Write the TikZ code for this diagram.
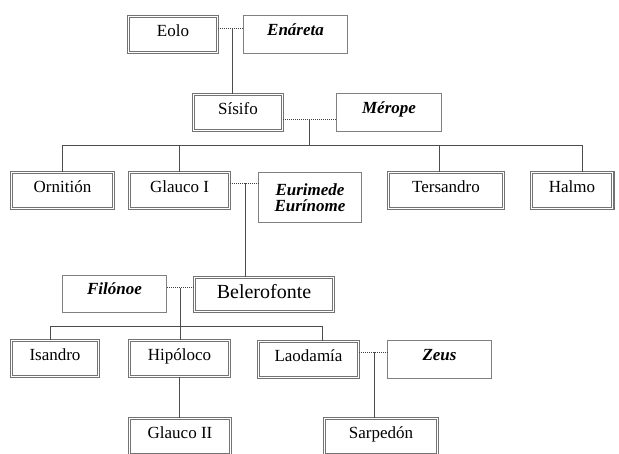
\documentclass[tikz,border=0pt]{standalone}
\usepackage{fontspec}
\setmainfont{Liberation Serif}
\begin{document}
\begin{tikzpicture}[x=1pt,y=-1pt,
  every node/.style={inner sep=0pt, align=center},
  kin/.style={draw=black!55, line width=1.25pt, double=white, double distance=0.9pt,
    minimum height=35.6pt, font=\fontsize{17}{19}\selectfont, text height=12pt, text depth=7.8pt},
  mate/.style={draw=black!50, line width=1pt, minimum height=38pt,
    font=\fontsize{17}{16}\selectfont\bfseries\itshape, text height=12pt, text depth=10.5pt},
  tie/.style={draw=black!70, line width=0.8pt},
  wed/.style={draw=black!75, line width=0.8pt, dash pattern=on 1pt off 1pt}
]
\clip (0,0) rectangle (619,453);
\fill[white] (0,0) rectangle (619,453);

\node[kin, minimum width=88.6pt] (eolo) at (173,34.5) {Eolo};
\node[mate, minimum width=104pt] (enareta) at (295.5,34.5) {Enáreta};
\node[kin, minimum width=88.6pt] (sisifo) at (238,112.5) {Sísifo};
\node[mate, minimum width=105pt] (merope) at (389,112.5) {Mérope};
\node[kin, minimum width=101.6pt] (ornition) at (62.5,190.5) {Ornitión};
\node[kin, minimum width=99.6pt] (glauco1) at (179.5,190.5) {Glauco I};
\node[draw=black!50, line width=1pt, minimum width=103pt, minimum height=50pt,
  font=\fontsize{17}{16}\selectfont\bfseries\itshape] (eurimede) at (310,197.5) {Eurimede\\Eurínome};
\node[kin, minimum width=114.6pt] (tersandro) at (446,190.5) {Tersandro};
\node[kin, minimum width=81.6pt] (halmo) at (572,190.5) {Halmo};
\node[kin, minimum width=138.6pt, minimum height=33.6pt, font=\fontsize{20}{22}\selectfont,
  text height=14pt, text depth=6.8pt] (belero) at (264,294.5) {Belerofonte};
\node[mate, minimum width=104pt, minimum height=37pt] (filonoe) at (114.5,294) {Filónoe};
\node[kin, minimum width=86.6pt] (isandro) at (55,358.5) {Isandro};
\node[kin, minimum width=99.6pt] (hipoloco) at (179.5,358.5) {Hipóloco};
\node[kin, minimum width=99.6pt] (laodamia) at (308.5,359.5) {Laodamía};
\node[mate, minimum width=104pt] (zeus) at (439.5,359.5) {Zeus};
\node[kin, minimum width=100.6pt] (glauco2) at (180,436.5) {Glauco II};
\node[kin, minimum width=112.6pt] (sarpedon) at (381,436.5) {Sarpedón};

% Eolo + Enareta
\draw[wed] ([yshift=6.5pt]eolo.east) -- ([yshift=6.5pt]eolo.east -| enareta.west);
\coordinate (m1) at (232,28);
\draw[tie] (m1) -- (m1 |- sisifo.north);

% Sisifo + Merope
\draw[wed] ([yshift=-6.5pt]sisifo.east) -- ([yshift=-6.5pt]sisifo.east -| merope.west);
\coordinate (m2) at (309,119);
\coordinate (b1) at (309,145);
\coordinate (tx) at (439,145);
\coordinate (hx) at (582,145);
\draw[tie] (m2) -- (b1);
\draw[tie] (ornition.north) |- (hx) -- (hx |- halmo.north);
\draw[tie] (glauco1.north) -- (glauco1.north |- b1);
\draw[tie] (tx) -- (tx |- tersandro.north);

% Glauco I + Eurimede
\draw[wed] ([yshift=7.5pt]glauco1.east) -- ([yshift=7.5pt]glauco1.east -| eurimede.west);
\coordinate (m3) at (245,183);
\draw[tie] (m3) -- (m3 |- belero.north);

% Filonoe + Belerofonte
\draw[wed] ([yshift=6.5pt]filonoe.east) -- ([yshift=6.5pt]filonoe.east -| belero.west);
\coordinate (m4) at (180,288);
\draw[tie] (m4) -- (m4 |- hipoloco.north);
\coordinate (b2l) at (50,326);
\coordinate (b2r) at (322,326);
\draw[tie] (b2l |- isandro.north) -- (b2l) -- (b2r) -- (b2r |- laodamia.north);

% Hipoloco -> Glauco II
\draw[tie] (hipoloco.south) -- (hipoloco.south |- glauco2.north);

% Laodamia + Zeus
\draw[wed] ([yshift=7.5pt]laodamia.east) -- ([yshift=7.5pt]laodamia.east -| zeus.west);
\coordinate (m5) at (374,352);
\draw[tie] (m5) -- (m5 |- sarpedon.north);
\end{tikzpicture}
\end{document}
